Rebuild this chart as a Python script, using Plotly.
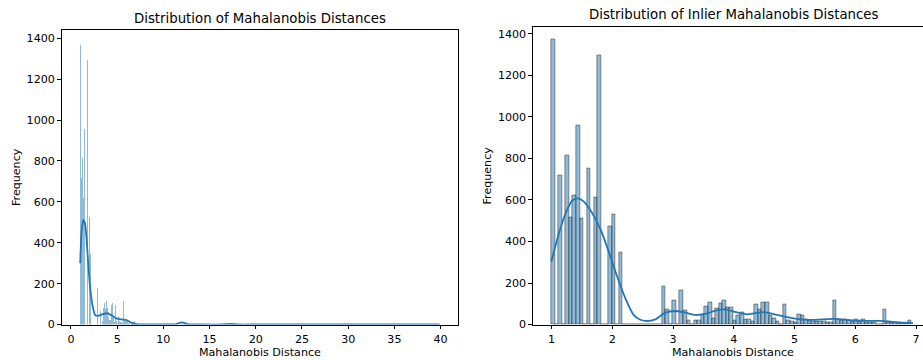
import numpy as np
import plotly.graph_objects as go

# ---------------- data ----------------
bin_start = 0.996
bin_width = 0.0587

# inlier histogram counts, one per bin (bin i centre = bin_start + bin_width*(i+0.5))
inlier_counts = [
    1371, 0, 717, 0, 815, 517, 621, 958, 512, 0,
    752, 0, 611, 1297, 0, 0, 470, 528, 0, 345,
    0, 0, 0, 0, 0, 0, 0, 0, 0, 0,
    0, 182, 70, 0, 118, 0, 163, 67, 18, 0,
    18, 20, 46, 85, 107, 30, 76, 100, 118, 83,
    83, 18, 41, 59, 26, 26, 13, 97, 73, 107,
    107, 41, 30, 13, 0, 97, 20, 13, 10, 46,
    43, 26, 20, 15, 15, 13, 13, 10, 10, 115,
    26, 20, 26, 20, 15, 26, 15, 26, 10, 8,
    8, 0, 0, 70, 8, 8, 8, 5, 5, 5,
    18,
]

# outliers (only in the full-distribution chart)
outlier_x = [7.3, 7.8, 8.5, 11.8, 12.05, 12.3, 17.1, 17.4, 22.0, 27.5, 33.0, 39.9]
outlier_counts = [3, 2, 1, 8, 12, 5, 4, 3, 1, 1, 1, 1]

# KDE curves
kde_all_x = [1.0, 1.16, 1.34, 1.52, 1.7, 1.89, 2.1, 2.36, 2.62, 2.9, 3.45, 3.93, 4.36, 4.9,
             5.45, 6.0, 6.54, 7.1, 8.0, 10.0, 11.3, 12.0, 12.7, 14.0, 16.3, 17.2, 18.2,
             20.0, 25.0, 30.0, 35.0, 39.9]
kde_all_y = [300, 462, 511, 495, 413, 283, 169, 87, 46, 42, 51, 55, 46, 30,
             25, 22, 9, 2, 0.5, 0, 1, 10, 1, 0, 0, 3, 0,
             0, 0, 0, 0, 0]

kde_in_x = [0.996, 1.12, 1.23, 1.34, 1.43, 1.53, 1.67, 1.81, 1.94, 2.08, 2.22, 2.35, 2.45,
            2.55, 2.71, 2.87, 3.04, 3.2, 3.37, 3.53, 3.7, 3.86, 4.0, 4.22, 4.49, 4.71,
            4.98, 5.26, 5.64, 6.03, 6.41, 6.74, 6.95]
kde_in_y = [304, 440, 536, 597, 608, 592, 536, 455, 351, 230, 122, 46, 24,
            17, 25, 57, 65, 57, 46, 51, 67, 73, 62, 49, 60, 46,
            30, 22, 27, 18, 17, 10, 7]

y_ticks = [0, 200, 400, 600, 800, 1000, 1200, 1400]
x_ticks_all = [0, 5, 10, 15, 20, 25, 30, 35, 40]
x_ticks_in = [1, 2, 3, 4, 5, 6, 7]

titles = ["Distribution of Mahalanobis Distances", "Distribution of Inlier Mahalanobis Distances"]
x_label = "Mahalanobis Distance"
y_label = "Frequency"

# ---------------- figure ----------------
W, H = 923, 360
FONT = "DejaVu Sans"
BLUE = "#1f77b4"

centers = bin_start + bin_width * (np.arange(len(inlier_counts)) + 0.5)
all_x = np.concatenate([centers, np.array(outlier_x)])
all_counts = np.concatenate([np.array(inlier_counts), np.array(outlier_counts)])

fig = go.Figure()
fig.add_trace(go.Bar(x=all_x, y=all_counts, width=bin_width, xaxis="x", yaxis="y",
                     marker=dict(color="rgba(31,119,180,0.5)", line=dict(width=0)),
                     showlegend=False))
fig.add_trace(go.Scatter(x=kde_all_x, y=kde_all_y, mode="lines", xaxis="x", yaxis="y",
                         line=dict(color=BLUE, width=1.8, shape="spline", smoothing=0.6),
                         showlegend=False))
fig.add_trace(go.Bar(x=centers, y=inlier_counts, width=bin_width, xaxis="x2", yaxis="y2",
                     marker=dict(color="rgba(31,119,180,0.5)",
                                 line=dict(width=0.9, color="rgba(40,40,40,0.55)")),
                     showlegend=False))
fig.add_trace(go.Scatter(x=kde_in_x, y=kde_in_y, mode="lines", xaxis="x2", yaxis="y2",
                         line=dict(color=BLUE, width=1.8, shape="spline", smoothing=0.8),
                         showlegend=False))

def px(x):
    return x / W

def py(y):
    return 1 - y / H

axis_common = dict(showline=True, linecolor="black", linewidth=0.9, ticks="outside",
                   ticklen=4, tickwidth=0.9, tickcolor="black", showgrid=False,
                   zeroline=False, automargin=False, ticklabeloverflow="allow",
                   tickfont=dict(family=FONT, size=11.1, color="black"))

fig.update_layout(
    width=W, height=H,
    margin=dict(l=0, r=0, t=0, b=0),
    paper_bgcolor="white", plot_bgcolor="white",
    barmode="overlay", bargap=0,
    font=dict(family=FONT, color="black"),
    xaxis=dict(domain=[px(62), px(457.7)], range=[-0.97, 41.85], anchor="y",
               tickvals=x_ticks_all, mirror=True, **axis_common),
    yaxis=dict(domain=[py(324.5), py(29.5)], range=[0, 1443], anchor="x",
               tickvals=y_ticks, mirror=True, **axis_common),
    xaxis2=dict(domain=[px(533.3), 1.0], range=[0.698, 7.115], anchor="y2",
                tickvals=x_ticks_in, mirror=True, **axis_common),
    yaxis2=dict(domain=[py(324.5), py(26.5)], range=[0, 1436], anchor="x2",
                tickvals=y_ticks, mirror=False, **axis_common),
)

ann = []
ann.append(dict(text=titles[0], x=px(260), y=py(18), xref="paper", yref="paper",
                showarrow=False, xanchor="center", yanchor="middle",
                font=dict(family=FONT, size=13.3, color="black")))
ann.append(dict(text=titles[1], x=px(733), y=py(14.5), xref="paper", yref="paper",
                showarrow=False, xanchor="center", yanchor="middle",
                font=dict(family=FONT, size=13.3, color="black")))
ann.append(dict(text=x_label, x=px(260), y=py(352.5), xref="paper", yref="paper",
                showarrow=False, xanchor="center", yanchor="middle",
                font=dict(family=FONT, size=11.1, color="black")))
ann.append(dict(text=x_label, x=px(733), y=py(352.5), xref="paper", yref="paper",
                showarrow=False, xanchor="center", yanchor="middle",
                font=dict(family=FONT, size=11.1, color="black")))
ann.append(dict(text=y_label, x=px(16), y=py(177), xref="paper", yref="paper",
                showarrow=False, xanchor="center", yanchor="middle", textangle=-90,
                font=dict(family=FONT, size=11.1, color="black")))
ann.append(dict(text=y_label, x=px(487), y=py(175.5), xref="paper", yref="paper",
                showarrow=False, xanchor="center", yanchor="middle", textangle=-90,
                font=dict(family=FONT, size=11.1, color="black")))
fig.update_layout(annotations=ann)

# remove the default page margin so the 923x360 figure fills the window exactly
fig.write_html("out.html",
               config={"displayModeBar": False},
               post_script="document.body.style.margin='0px';document.body.style.overflow='hidden';")
